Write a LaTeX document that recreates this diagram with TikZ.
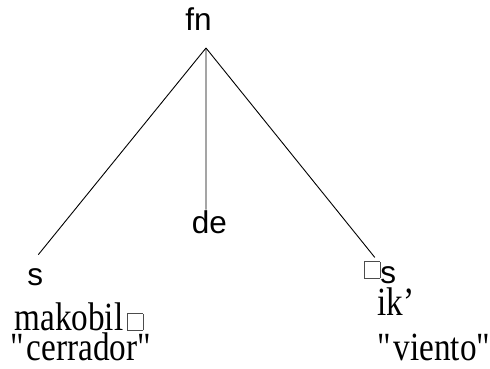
\documentclass[tikz,border=0pt]{standalone}
\usepackage{fontspec}
\setmainfont{Liberation Serif}[FakeStretch=0.83]
\newfontfamily\catfont{Liberation Sans}
\newcommand{\tofu}{{\fboxsep=0pt\fboxrule=0.6pt\color{black!70}\framebox[16pt]{\rule{0pt}{16pt}}}}

\begin{document}
\begin{tikzpicture}[x=1pt,y=1pt,line width=0.9pt,
        cat/.style={anchor=base west, inner sep=0pt, font=\catfont\fontsize{31.5}{36}\selectfont},
        gloss/.style={anchor=base west, inner sep=0pt, font=\fontsize{40}{44}\selectfont}]
        \useasboundingbox (0,0) rectangle (490,368);
        \node[cat] (fn) at (185,338) {fn};
        \coordinate (apex) at (206,320);
        \node[cat] (de) at (191.5,135) {de};
        \node[cat] (s) at (27,83) {s};
        \node[cat] (ws) at (364,85) {\raisebox{5pt}{\tofu}s};
        \node[gloss] (makobil) at (14,38) {makobil\hspace{4pt}\tofu};
        \node[gloss] (cerrador) at (10,8) {\textquotedbl cerrador\textquotedbl};
        \node[gloss] (ik) at (377,53) {ik’};
        \node[gloss] (viento) at (377,8) {\textquotedbl viento\textquotedbl};
        \draw (apex)--([shift={(3,13)}]s.north);
        \draw (apex)--([xshift=-3.5]de.north);
        \draw (apex)--([shift={(-5.5,3.5)}]ws.north);
    \end{tikzpicture}
\end{document}
